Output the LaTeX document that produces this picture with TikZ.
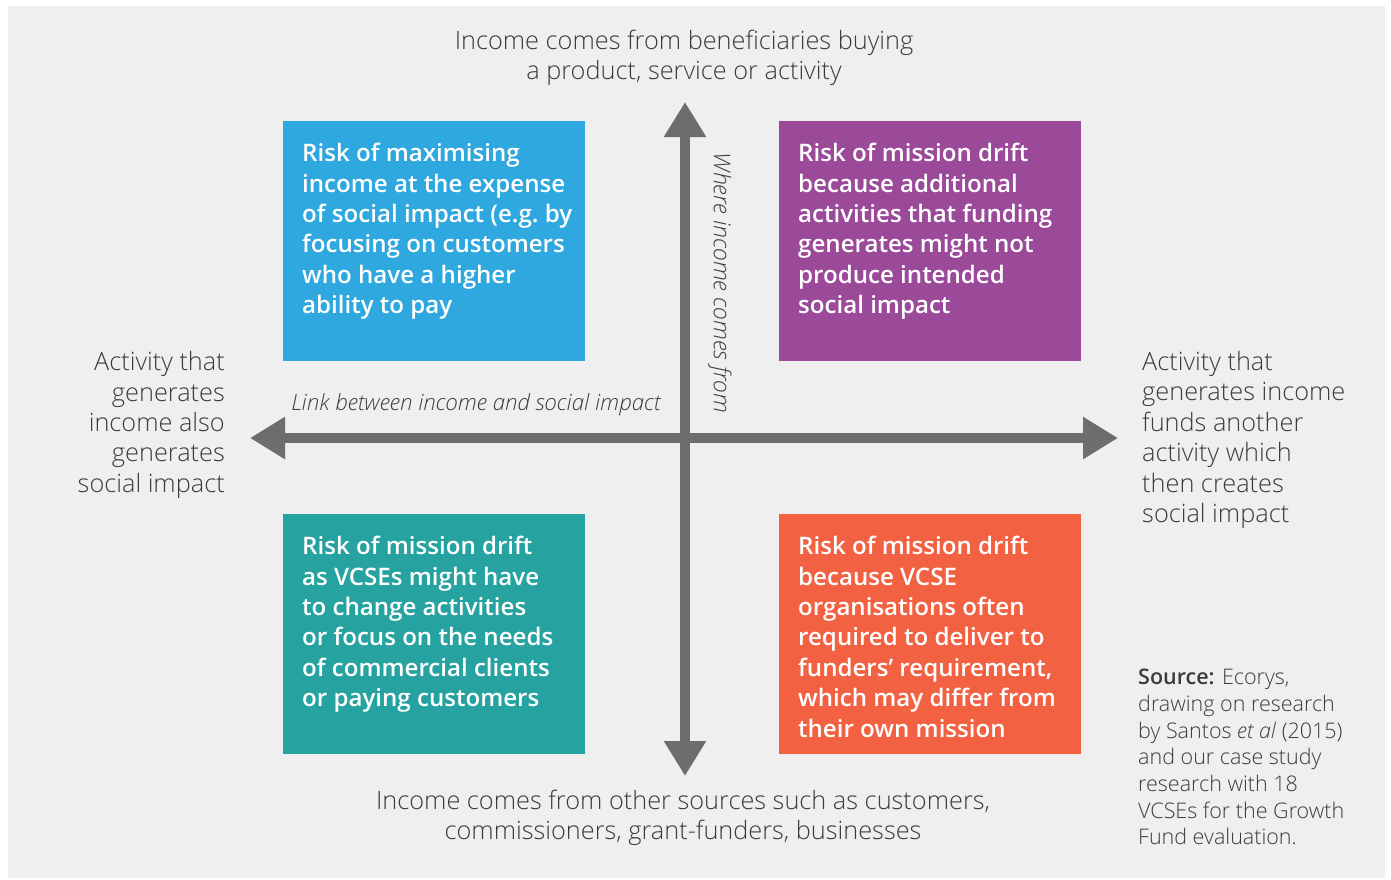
\documentclass[tikz,border=0pt]{standalone}
\usepackage{fontspec}
\setmainfont{Open Sans}
\newfontfamily\lightfont{Open Sans Light}
\newfontfamily\semifont{Open Sans Semibold}
\usetikzlibrary{arrows.meta}

\definecolor{bggrey}{HTML}{EEEFEE}
\definecolor{axisgrey}{HTML}{6D6D6E}
\definecolor{labelgrey}{HTML}{3C3C3C}
\definecolor{riskblue}{HTML}{2EA8DF}
\definecolor{riskpurple}{HTML}{9B4A9A}
\definecolor{riskteal}{HTML}{26A3A0}
\definecolor{riskorange}{HTML}{F26142}

\begin{document}
\begin{tikzpicture}[x=1pt,y=-1pt]
\useasboundingbox (0,0) rectangle (1391,880);
\fill[bggrey] (8,6) rectangle (1385,878);

% quadrant boxes
\begin{scope}[every node/.style={minimum width=302pt,minimum height=240pt,
              anchor=north west,inner sep=0pt}]
    \node[fill=riskblue]   (maxinc)   at (283,121) {};
    \node[fill=riskpurple] (extraact) at (779,121) {};
    \node[fill=riskteal]   (clients)  at (283,514) {};
    \node[fill=riskorange] (funders)  at (779,514) {};
\end{scope}

\begin{scope}[every node/.style={anchor=north west,inner sep=0pt,text=white,align=left,
              font=\semifont\fontsize{24.1}{30.4}\selectfont}]
    \node (maxinc text)   at ([shift={(19,22)}]maxinc.north west)
        {Risk of maximising\\income at the expense\\of social impact (e.g.\ by\\focusing on customers\\who have a higher\\ability to pay};
    \node (extraact text) at ([shift={(19,22)}]extraact.north west)
        {Risk of mission drift\\because additional\\activities that funding\\generates might not\\produce intended\\social impact};
    \node (clients text)  at ([shift={(19,22)}]clients.north west)
        {Risk of mission drift\\as VCSEs might have\\to change activities\\or focus on the needs\\of commercial clients\\or paying customers};
    \node (funders text)  at ([shift={(19,22)}]funders.north west)
        {Risk of mission drift\\because VCSE\\organisations often\\required to deliver to\\funders’ requirement,\\which may differ from\\their own mission};
\end{scope}

% axes
\coordinate (top)    at (685,102);
\coordinate (bottom) at (685,776);
\coordinate (left)   at (250,438);
\coordinate (right)  at (1118,438);

\begin{scope}[draw=axisgrey,line width=10pt,
              {Triangle[width=40pt,length=35pt]}-{Triangle[width=40pt,length=35pt]}]
    \draw (left) -- (right);
    \draw (top) -- (bottom);
\end{scope}

% axis labels
\begin{scope}[every node/.style={text=labelgrey,inner sep=0pt,
              font=\lightfont\fontsize{25.3}{30.4}\selectfont}]
    \node[align=center] (buying)   at (684,58)
        {Income comes from beneficiaries buying\\a product, service or activity};
    \node[align=center] (sources)  at (683,818)
        {Income comes from other sources such as customers,\\commissioners, grant-funders, businesses};
    \node[align=right,anchor=east] (alsoimpact) at (225,425)
        {Activity that\\generates\\income also\\generates\\social impact};
    \node[align=left,anchor=west]  (fundsother) at (1142,440)
        {Activity that\\generates income\\funds another\\activity which\\then creates\\social impact};
    \node[font=\lightfont\itshape\fontsize{22.3}{26}\selectfont] (link) at (476,405)
        {Link between income and social impact};
    \node[font=\lightfont\itshape\fontsize{23.2}{26}\selectfont,rotate=-90] (where) at (720,283)
        {Where income comes from};
    \node[align=left,anchor=north west,font=\lightfont\fontsize{21.5}{26.7}\selectfont] (source) at (1138,669)
        {{\semifont Source:} Ecorys,\\drawing on research\\by Santos \textit{et al} (2015)\\and our case study\\research with 18\\VCSEs for the Growth\\Fund evaluation.};
\end{scope}
\end{tikzpicture}
\end{document}
